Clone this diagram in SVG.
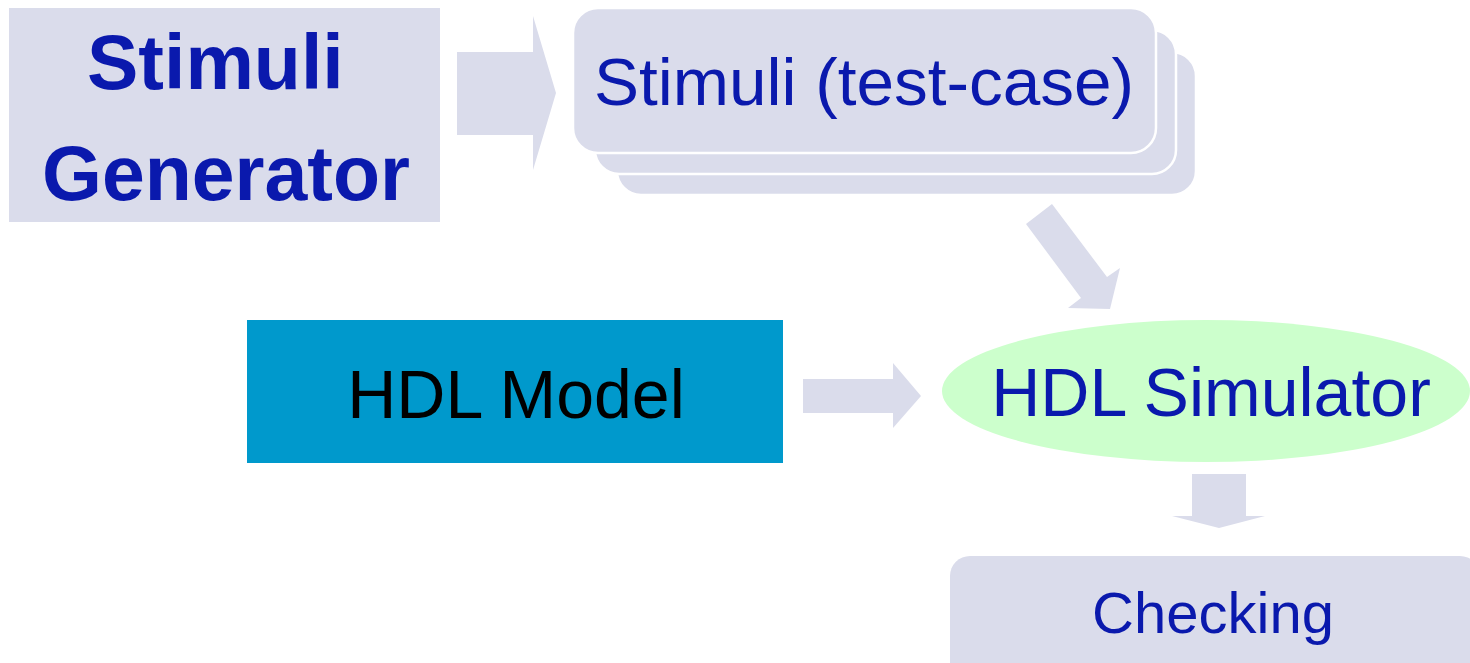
<svg xmlns="http://www.w3.org/2000/svg" width="1470" height="663" viewBox="0 0 1470 663">
  <style>
    .lav { fill: #DADCEB; }
    .card { fill: #DADCEB; stroke: #FFFFFF; stroke-width: 2.5; }
    .flow { fill: #DADCEB; }
    .lbl { font-family: "Liberation Sans", Arial, sans-serif; fill: #0A19AD; }
  </style>
  <rect width="1470" height="663" fill="#FFFFFF"/>

  <g id="connectors">
    <!-- generator to test-case stack -->
    <polygon class="flow" points="457,52 533,52 533,16 556,93 533,170 533,135 457,135"/>
    <!-- test-case stack to simulator -->
    <polygon class="flow" points="1026,224 1052,204 1107,277 1120,268 1110,309 1068,308 1081,298"/>
    <!-- model to simulator -->
    <polygon class="flow" points="803,379 893,379 893,363 921,396 893,428 893,413 803,413"/>
    <!-- simulator to checking -->
    <polygon class="flow" points="1192,474 1246,474 1246,516 1265,516 1219,528 1172,516 1192,516"/>
  </g>

  <g id="stimuli-generator">
    <rect class="lav" x="9" y="8" width="431" height="214"/>
    <text class="lbl" x="87" y="89" font-size="77" font-weight="bold">Stimuli</text>
    <text class="lbl" x="42" y="200" font-size="77" font-weight="bold">Generator</text>
  </g>

  <g id="stimuli-test-case">
    <rect class="card" x="617" y="52" width="579" height="143" rx="24"/>
    <rect class="card" x="595" y="30" width="581" height="144" rx="24"/>
    <rect class="card" x="573" y="8" width="583" height="145" rx="25"/>
    <text class="lbl" x="864" y="105" font-size="67.5" text-anchor="middle">Stimuli (test-case)</text>
  </g>

  <g id="hdl-model">
    <rect x="247" y="320" width="536" height="143" fill="#0099CC"/>
    <text x="516" y="418" font-size="68" text-anchor="middle" font-family="Liberation Sans, Arial, sans-serif" fill="#000000">HDL Model</text>
  </g>

  <g id="hdl-simulator">
    <ellipse cx="1206" cy="391" rx="264" ry="71" fill="#CCFFCC"/>
    <text class="lbl" x="1211" y="416" font-size="68" text-anchor="middle">HDL Simulator</text>
  </g>

  <g id="checking">
    <rect class="lav" x="950" y="556" width="530" height="140" rx="20"/>
    <text class="lbl" x="1213" y="633" font-size="58" text-anchor="middle">Checking</text>
  </g>
</svg>
